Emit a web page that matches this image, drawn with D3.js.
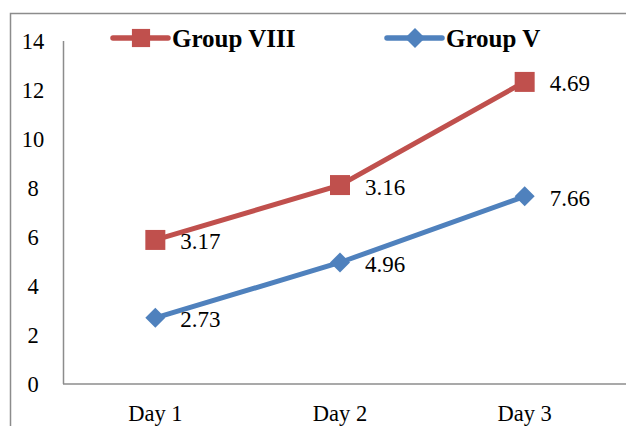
<!DOCTYPE html>
<html>
<head>
<meta charset="utf-8">
<script src="https://cdn.jsdelivr.net/npm/d3@7"></script>
<style>
  body { margin: 0; background: #fff; }
  svg text { font-family: "Liberation Serif", "Times New Roman", serif; }
</style>
</head>
<body>
<div id="wrapper"></div>
<script>
const days = ["Day 1", "Day 2", "Day 3"]
const groupVIII = [5.88, 8.12, 12.33]
const groupVIIILabels = ["3.17", "3.16", "4.69"]
const groupV = [2.7, 4.96, 7.66]
const groupVLabels = ["2.73", "4.96", "7.66"]
const yTicks = [0, 2, 4, 6, 8, 10, 12, 14]

const series = [
  { name: "Group VIII", values: groupVIII, labels: groupVIIILabels, color: "#C0504D", rotate: 0, size: 400, legendSize: 330 },
  { name: "Group V", values: groupV, labels: groupVLabels, color: "#4F81BD", rotate: 45, size: 200, legendSize: 200 },
]

const width = 626, height = 426
const svg = d3.select("#wrapper").append("svg")
  .attr("width", width)
  .attr("height", height)

// outer frame
svg.append("rect")
  .attr("x", 10.5).attr("y", 13.5)
  .attr("width", 640).attr("height", 440)
  .attr("fill", "none")
  .attr("stroke", "#8c8c8c")
  .attr("stroke-width", 1.5)

const xScale = d3.scaleBand().domain(days).range([63, 617])
const yScale = d3.scaleLinear().domain([0, 14]).range([384, 41])
const xMid = d => xScale(d) + xScale.bandwidth() / 2

// axes
svg.append("line")
  .attr("x1", 63.5).attr("x2", 63.5)
  .attr("y1", yScale(14)).attr("y2", yScale(0))
  .attr("stroke", "#8c8c8c").attr("stroke-width", 1.5)
svg.append("line")
  .attr("x1", 63).attr("x2", width)
  .attr("y1", yScale(0)).attr("y2", yScale(0))
  .attr("stroke", "#8c8c8c").attr("stroke-width", 1.5)

svg.selectAll(".ytick").data(yTicks).join("text")
  .attr("x", 33)
  .attr("y", d => yScale(d))
  .attr("dy", "0.35em")
  .attr("text-anchor", "middle")
  .style("font-size", "22.5px")
  .text(d => d)

svg.selectAll(".xtick").data(days).join("text")
  .attr("x", d => xMid(d))
  .attr("y", 421)
  .attr("text-anchor", "middle")
  .style("font-size", "22.5px")
  .text(d => d)

const line = d3.line()
  .x((d, i) => xMid(days[i]))
  .y(d => yScale(d))

series.forEach(s => {
  const g = svg.append("g")
  g.append("path")
    .attr("d", line(s.values))
    .attr("fill", "none")
    .attr("stroke", s.color)
    .attr("stroke-width", 5)
  g.selectAll("path.m").data(s.values).join("path")
    .attr("class", "m")
    .attr("transform", (d, i) => `translate(${xMid(days[i])},${yScale(d)}) rotate(${s.rotate})`)
    .attr("d", d3.symbol().type(d3.symbolSquare).size(s.size))
    .attr("fill", s.color)
  g.selectAll("text").data(s.values).join("text")
    .attr("x", (d, i) => xMid(days[i]) + 25)
    .attr("y", d => yScale(d) + 9.5)
    .style("font-size", "23px")
    .text((d, i) => s.labels[i])
})

// legend
const legendX = [113, 387]
series.forEach((s, i) => {
  const g = svg.append("g").attr("transform", `translate(${legendX[i]},38)`)
  g.append("line")
    .attr("x1", 0).attr("x2", 55)
    .attr("stroke", s.color).attr("stroke-width", 5.5)
    .attr("stroke-linecap", "round")
  g.append("path")
    .attr("transform", `translate(28,0) rotate(${s.rotate})`)
    .attr("d", d3.symbol().type(d3.symbolSquare).size(s.legendSize))
    .attr("fill", s.color)
  g.append("text")
    .attr("x", 59)
    .attr("y", 9)
    .style("font-size", "25px")
    .style("font-weight", "bold")
    .text(s.name)
})
</script>
</body>
</html>
